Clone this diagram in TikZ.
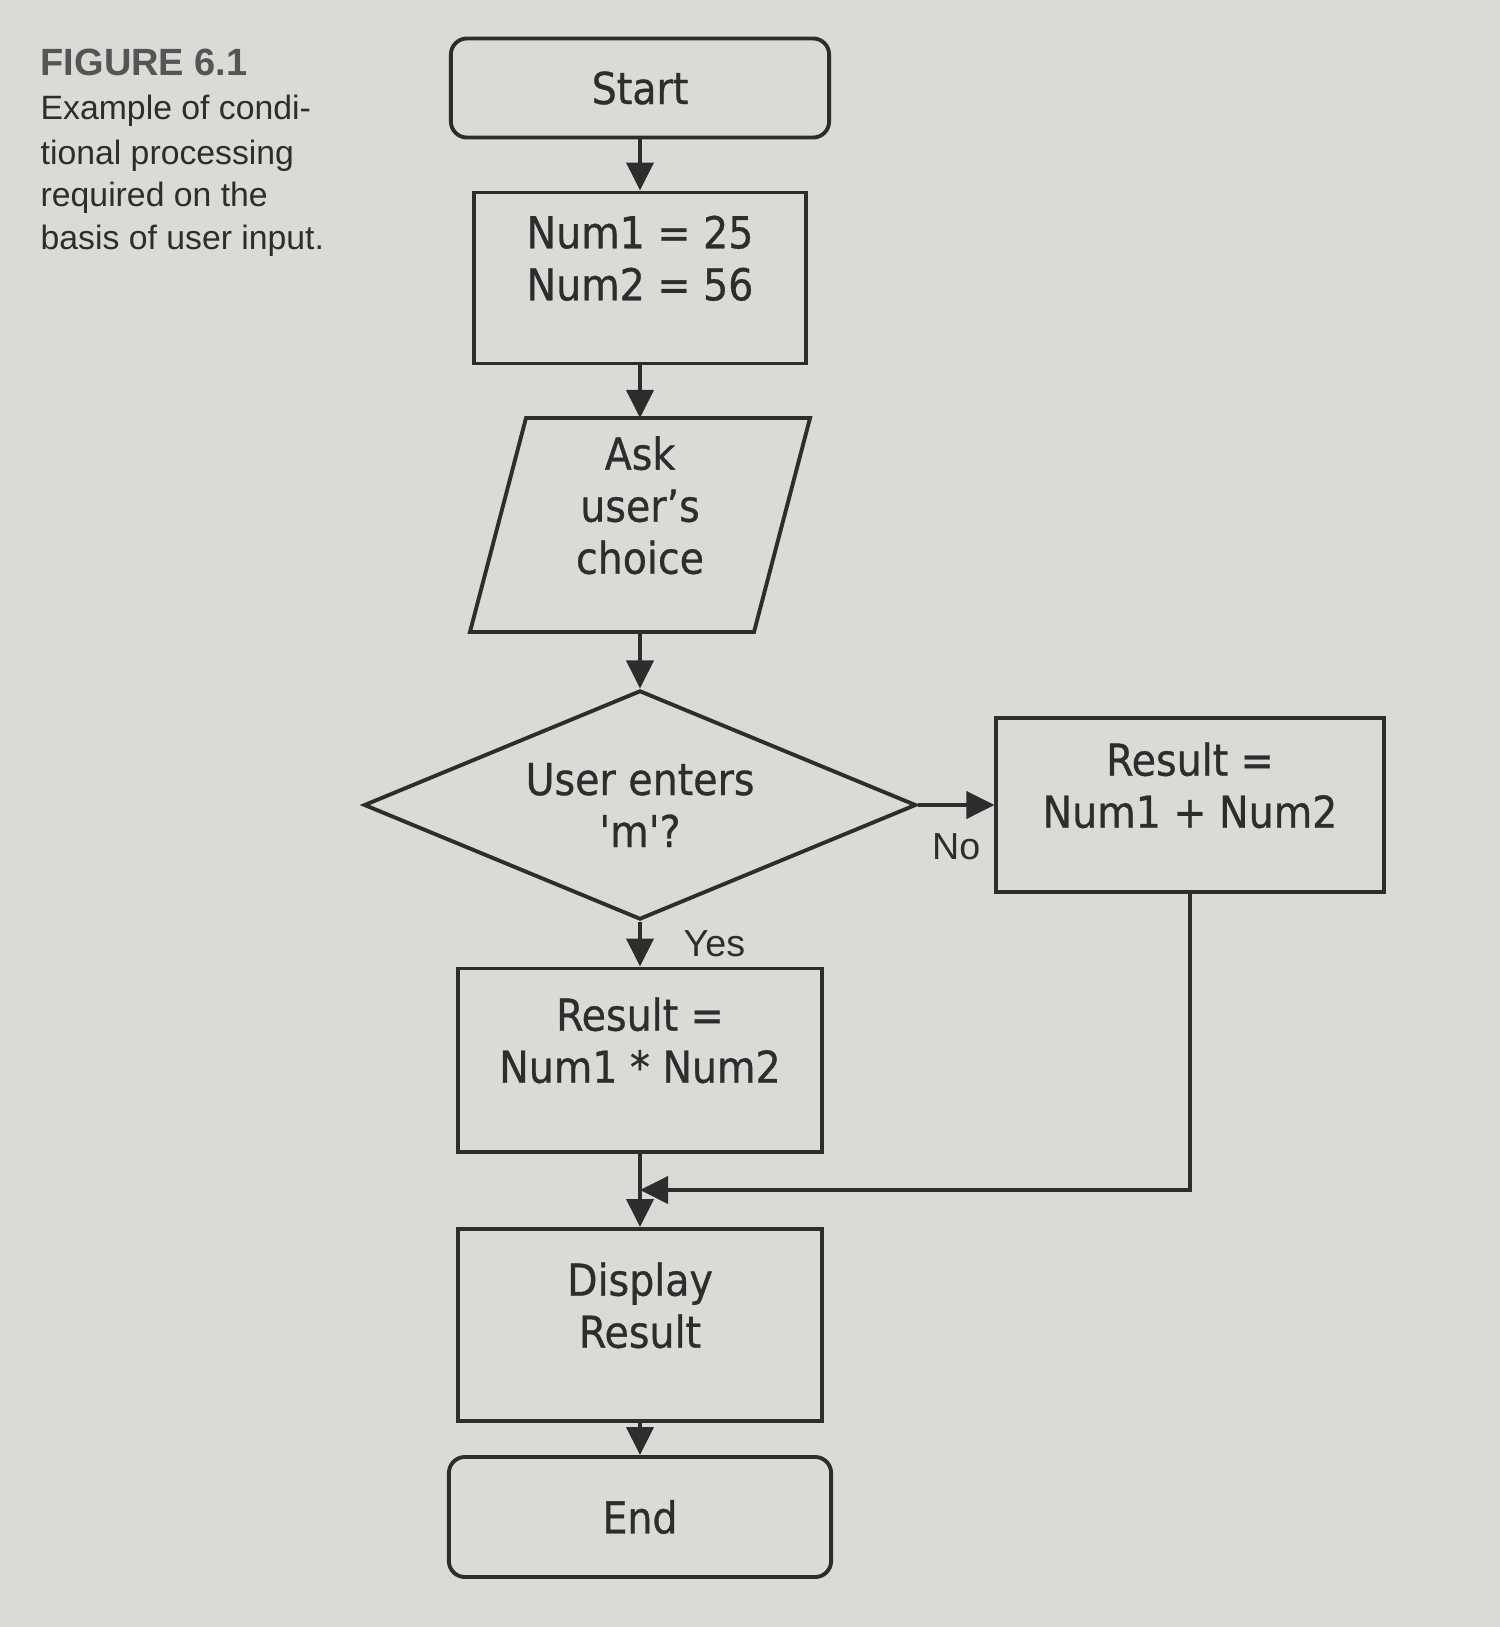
\documentclass[tikz,border=0pt]{standalone}
\usepackage{fontspec}
\setmainfont{DejaVu Sans Condensed}
\newfontfamily\boxfont{DejaVu Sans Condensed}[FakeBold=0.7]
\newfontfamily\capfont{Liberation Sans}
\usetikzlibrary{arrows.meta,shapes.geometric}
\definecolor{paper}{RGB}{218,218,215}
\definecolor{ink}{RGB}{45,45,45}
\definecolor{figgray}{RGB}{85,85,85}

\tikzset{
  box/.style={draw=ink, line width=1.1pt, minimum width=3.63cm, minimum height=1.83cm,
    align=center, text=ink, font=\boxfont\fontsize{12.5}{14.8}\selectfont},
  lift/.style={text depth=0.4cm},
  term/.style={box, rounded corners=0.16cm, minimum width=3.78cm, minimum height=0.99cm},
  flow/.style={draw=ink, line width=1.1pt, -{Triangle[length=0.28cm,width=0.27cm]}},
  tag/.style={text=ink, font=\capfont\fontsize{10.7}{12}\selectfont},
  capline/.style={anchor=base west, inner sep=0pt, text=ink, font=\capfont\fontsize{9.6}{12}\selectfont},
}

\begin{document}
\begin{tikzpicture}[x=0.01cm,y=-0.01cm]
\fill[paper] (0,0) rectangle (1500,1627);
\useasboundingbox (0,0) rectangle (1500,1627);
% caption
\node[capline, text=figgray, font=\capfont\bfseries\fontsize{10.8}{12}\selectfont] (fig) at (40,75) {FIGURE 6.1};
\node[capline] (cap1) at (40,120) {Example of condi-};
\node[capline] (cap2) at (40,164) {tional processing};
\node[capline] (cap3) at (40,206) {required on the};
\node[capline] (cap4) at (40,249) {basis of user input.};
% flowchart
\node[term] (start) at (640,88) {Start};
\node[box, lift, minimum width=3.32cm, minimum height=1.71cm] (nums) at (640,278) {Num1 = 25\\Num2 = 56};
\node[box, lift, draw=none, minimum width=2.80cm, minimum height=2.10cm, inner sep=0pt] (ask) at (640,525) {Ask\\user’s\\choice};
\draw[ink, line width=1.1pt] ([xshift=0.28cm]ask.north west) -- ([xshift=0.28cm]ask.north east)
  -- ([xshift=-0.28cm]ask.south east) -- ([xshift=-0.28cm]ask.south west) -- cycle;
\node[box, diamond, aspect=2.4, minimum width=5.52cm, minimum height=2.29cm, inner sep=0pt] (choice) at (640,805)
  {User enters\\\textquotesingle m\textquotesingle?};
\node[box, lift, minimum width=3.87cm, minimum height=1.74cm] (addres) at (1190,805) {Result =\\Num1 + Num2};
\node[box, lift] (mulres) at (640,1060) {Result =\\Num1 * Num2};
\node[box, lift, minimum height=1.92cm] (show) at (640,1325) {Display\\Result};
\node[term, minimum width=3.82cm, minimum height=1.20cm] (stop) at (640,1517) {End};
\coordinate (join) at (640,1190);
% arrows
\draw[flow] (start) -- (nums);
\draw[flow] (nums) -- (ask);
\draw[flow] (ask) -- (choice);
\draw[flow] (choice.east) -- node[tag, below=0.15cm] {No} (addres.west);
\draw[flow] (choice.south) -- node[tag, right=0.3cm] {Yes} (mulres.north);
\draw[flow] (mulres) -- (show);
\draw[flow] (addres.south) |- (join);
\draw[flow] (show) -- (stop);
\end{tikzpicture}
\end{document}
